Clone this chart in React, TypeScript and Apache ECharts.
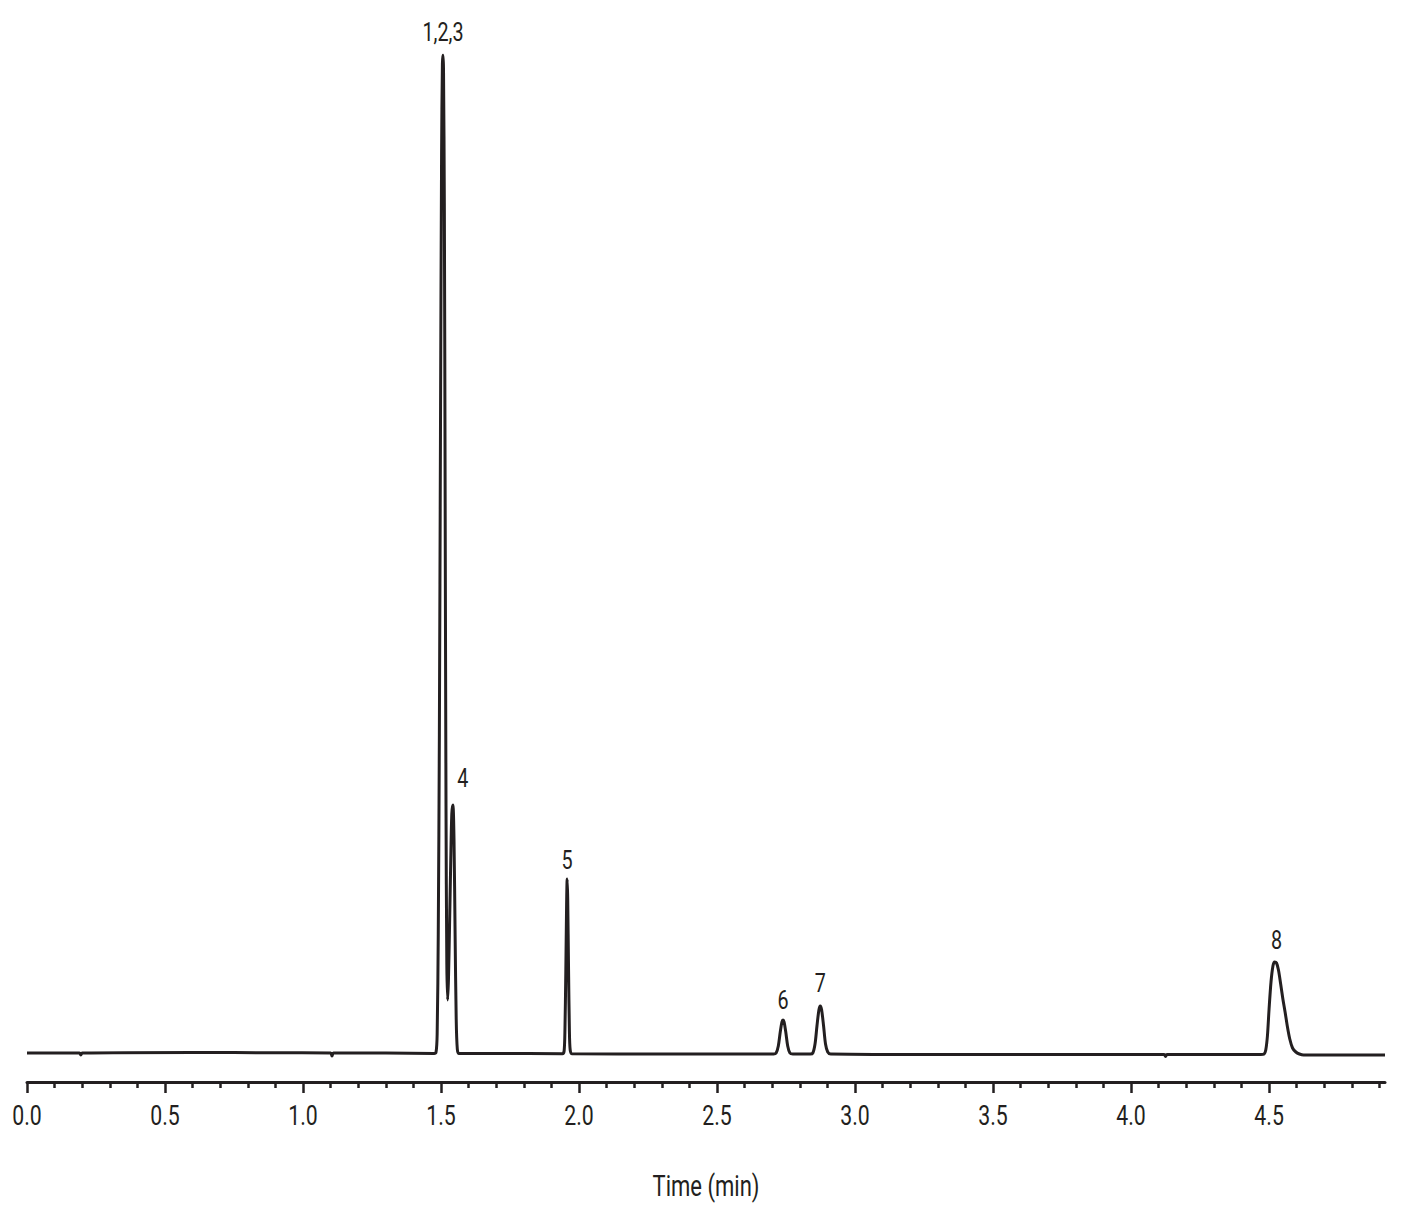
import React, { useEffect, useRef } from "react";
import * as echarts from "echarts";

// Signal trace (time in min, detector response in arbitrary units)
const baselineStart: [number, number][] = [
  [0.0, 1], [0.19, 1], [0.195, -1], [0.2, 1], [0.6, 1.5], [0.9, 1.2], [1.1, 1], [1.105, -2], [1.11, 1], [1.3, 1], [1.475, 0.5],
];
const peak123and4: [number, number][] = [
  [1.482, 2], [1.486, 20], [1.49, 120], [1.494, 320], [1.498, 620], [1.502, 900], [1.505, 990], [1.507, 999],
  [1.509, 985], [1.512, 850], [1.515, 550], [1.518, 250], [1.521, 90], [1.524, 54], [1.527, 75], [1.531, 130],
  [1.535, 190], [1.539, 240], [1.543, 249], [1.547, 215], [1.551, 120], [1.555, 35], [1.559, 5], [1.565, 0.5],
];
const baselineMid1: [number, number][] = [[1.7, 0.5], [1.94, 0.3]];
const peak5: [number, number][] = [
  [1.946, 3], [1.949, 25], [1.952, 80], [1.955, 150], [1.957, 175], [1.959, 155], [1.962, 85], [1.965, 25], [1.968, 4], [1.975, 0.3],
];
const baselineMid2: [number, number][] = [[2.3, 0], [2.705, 0]];
const peak6: [number, number][] = [
  [2.714, 1], [2.722, 8], [2.729, 22], [2.735, 32], [2.739, 34], [2.743, 32], [2.749, 22], [2.756, 8], [2.764, 1], [2.775, 0],
];
const baselineMid3: [number, number][] = [[2.838, 0]];
const peak7: [number, number][] = [
  [2.847, 1], [2.855, 10], [2.862, 28], [2.869, 44], [2.874, 48], [2.879, 44], [2.886, 28], [2.893, 10], [2.901, 2], [2.912, 0],
];
const baselineMid4: [number, number][] = [[3.3, -0.5], [3.8, -0.5], [4.12, -0.5], [4.125, -2.5], [4.13, -0.5], [4.47, -0.5]];
const peak8: [number, number][] = [
  [4.482, 0], [4.488, 4], [4.494, 18], [4.5, 45], [4.507, 72], [4.514, 88], [4.52, 92], [4.527, 91], [4.534, 84],
  [4.542, 70], [4.55, 55], [4.558, 42], [4.566, 28], [4.575, 15], [4.585, 6], [4.597, 2], [4.61, 0], [4.625, -1],
];
const baselineEnd: [number, number][] = [[4.75, -1], [4.92, -1]];

// Peak labels
const peakNames = ["1,2,3", "4", "5", "6", "7", "8"];
const peakTimes = [1.507, 1.543, 1.957, 2.739, 2.874, 4.527];
const peakHeights = [999, 249, 175, 34, 48, 92];

// Axis ticks
const majorTicks = [0, 0.5, 1.0, 1.5, 2.0, 2.5, 3.0, 3.5, 4.0, 4.5];
const minorTicks = [
  0.1, 0.2, 0.3, 0.4, 0.6, 0.7, 0.8, 0.9, 1.1, 1.2, 1.3, 1.4, 1.6, 1.7, 1.8, 1.9, 2.1, 2.2, 2.3, 2.4,
  2.6, 2.7, 2.8, 2.9, 3.1, 3.2, 3.3, 3.4, 3.6, 3.7, 3.8, 3.9, 4.1, 4.2, 4.3, 4.4, 4.6, 4.7, 4.8, 4.9,
];
const xName = "Time (min)";

const X_MIN = 0;
const X_MAX = 4.92;
const Y_MIN = -28;
const Y_MAX = 999;

const INK = "#231f20";
const FONT = "Roboto, 'Noto Sans', sans-serif";
const NARROW = 0.76;

// label placement tweaks (pixels): [dx, dy above apex]
const labelShift: Record<string, [number, number]> = {
  "1,2,3": [0, 22],
  "4": [10, 26],
  "5": [0, 18],
  "6": [0, 19],
  "7": [0, 22],
  "8": [0, 21],
};

export default function App() {
  const ref = useRef<HTMLDivElement>(null);
  useEffect(() => {
    if (!ref.current) return;
    const chart = echarts.init(ref.current, null, { renderer: "svg" });
    const trace = [
      ...baselineStart, ...peak123and4, ...baselineMid1, ...peak5, ...baselineMid2, ...peak6,
      ...baselineMid3, ...peak7, ...baselineMid4, ...peak8, ...baselineEnd,
    ];
    chart.setOption({
      animation: false,
      backgroundColor: "#ffffff",
      grid: { left: 27, right: 26, top: 55, bottom: 133, containLabel: false },
      xAxis: [
        {
          type: "value",
          min: X_MIN,
          max: X_MAX,
          axisLine: { show: true, onZero: false, lineStyle: { color: INK, width: 3 } },
          axisTick: { show: true, length: 11, customValues: majorTicks, lineStyle: { color: INK, width: 2.5 } },
          axisLabel: { show: false },
          splitLine: { show: false },
        },
        {
          type: "value",
          min: X_MIN,
          max: X_MAX,
          position: "bottom",
          axisLine: { show: false, onZero: false },
          axisTick: { show: true, length: 6, customValues: minorTicks, lineStyle: { color: INK, width: 2.5 } },
          axisLabel: { show: false },
          splitLine: { show: false },
        },
      ],
      yAxis: { type: "value", min: Y_MIN, max: Y_MAX, show: false },
      series: [
        {
          type: "line",
          xAxisIndex: 0,
          data: trace,
          showSymbol: false,
          symbol: "none",
          smooth: 0.3,
          lineStyle: { color: INK, width: 3 },
          z: 3,
        },
      ],
    });

    const px = (t: number, v: number) =>
      chart.convertToPixel({ xAxisIndex: 0, yAxisIndex: 0 }, [t, v]) as number[];
    const graphics: any[] = [];
    const axisY = px(X_MIN, Y_MIN)[1];
    majorTicks.forEach((t) => {
      const [x] = px(t, Y_MIN);
      graphics.push({
        type: "text",
        x,
        y: axisY + 33,
        scaleX: NARROW,
        style: {
          text: t.toFixed(1),
          fill: INK,
          fontSize: 28,
          fontFamily: FONT,
          textAlign: "center",
          textVerticalAlign: "middle",
        },
      });
    });
    const [cx] = px((X_MIN + X_MAX) / 2, Y_MIN);
    graphics.push({
      type: "text",
      x: cx,
      y: axisY + 104,
      scaleX: NARROW,
      style: {
        text: xName,
        fill: INK,
        fontSize: 29,
        fontFamily: FONT,
        textAlign: "center",
        textVerticalAlign: "middle",
      },
    });
    peakNames.forEach((n, i) => {
      const [x, y] = px(peakTimes[i], peakHeights[i]);
      const s = labelShift[n] || [0, 20];
      graphics.push({
        type: "text",
        x: x + s[0],
        y: y - s[1],
        scaleX: NARROW,
        style: {
          text: n,
          fill: INK,
          fontSize: 26,
          fontFamily: FONT,
          textAlign: "center",
          textVerticalAlign: "middle",
        },
      });
    });
    chart.setOption({ graphic: graphics });
    return () => chart.dispose();
  }, []);
  return (
    <div
      ref={ref}
      style={{ position: "absolute", left: 0, top: 0, width: 1411, height: 1215 }}
    />
  );
}
